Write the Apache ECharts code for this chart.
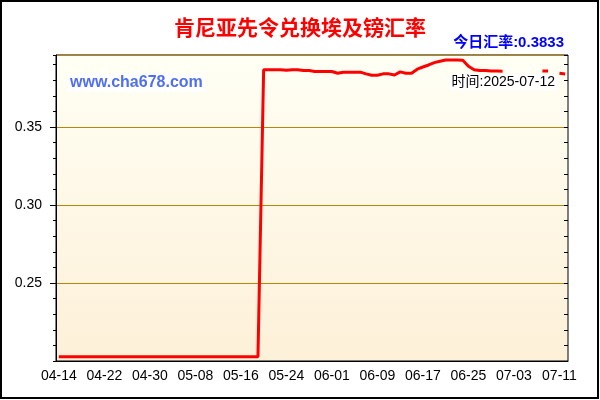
<!DOCTYPE html>
<html>
<head>
<meta charset="utf-8">
<script src="https://cdn.jsdelivr.net/npm/echarts@6/dist/echarts.min.js"></script>
<style>
  html, body { margin: 0; padding: 0; background: #fff; }
  #main { width: 600px; height: 400px; }
</style>
</head>
<body>
<div id="main"></div>
<script>
// 肯尼亚先令兑换埃及镑 daily rate, 2025-04-14 .. 2025-07-12
var startDate = '2025-04-14';
var dayCount = 90;
var days = [];
(function () {
    var d = new Date(startDate + 'T00:00:00Z');
    for (var i = 0; i < dayCount; i++) {
        var m = d.getUTCMonth() + 1, dd = d.getUTCDate();
        days.push((m < 10 ? '0' + m : m) + '-' + (dd < 10 ? '0' + dd : dd));
        d.setUTCDate(dd + 1);
    }
})();

var rates = [
    // 04-14 .. 05-19
    0.2027, 0.2027, 0.2027, 0.2027, 0.2027, 0.2027, 0.2027, 0.2027, 0.2027, 0.2027,
    0.2027, 0.2027, 0.2027, 0.2027, 0.2027, 0.2027, 0.2027, 0.2027, 0.2027, 0.2027,
    0.2027, 0.2027, 0.2027, 0.2027, 0.2027, 0.2027, 0.2027, 0.2027, 0.2027, 0.2027,
    0.2027, 0.2027, 0.2027, 0.2027, 0.2027, 0.2027,
    // 05-20 ..
    0.3868, 0.3868, 0.3868, 0.3868, 0.3864, 0.3868, 0.3868, 0.3862, 0.3862, 0.3856,
    0.3856, 0.3856, 0.3856, 0.3845, 0.3852, 0.3852, 0.3852, 0.3852, 0.3841, 0.3832,
    0.3832, 0.3841, 0.3841, 0.3834, 0.3854, 0.3845, 0.3845, 0.3871, 0.3885, 0.3898,
    0.3913, 0.3922, 0.3930, 0.3930, 0.3930, 0.3928, 0.3890, 0.3868, 0.3862, 0.3862,
    0.3860, 0.3860, 0.3858,
    // 07-02 .. 07-12
    null, null, null, null, null, null, 0.3860, 0.3860, null, 0.3845, 0.3840
];

var todayRate = 0.3833;
var todayDate = '2025-07-12';
var yLabels = [0.25, 0.30, 0.35];

var myChart = echarts.init(document.getElementById('main'));

var tickColor = '#000';
var font = '"Liberation Sans", Arial, sans-serif';

option = {
    backgroundColor: '#fff',
    animation: false,
    title: {
        text: '肯尼亚先令兑换埃及镑汇率',
        left: 'center',
        top: 12,
        textStyle: {
            color: '#ff0000',
            fontSize: 21,
            fontWeight: 'bold',
            fontFamily: '"Noto Sans CJK SC", sans-serif'
        }
    },
    grid: {
        left: 56,
        right: 32,
        top: 55,
        bottom: 39,
        show: true,
        borderColor: '#000',
        borderWidth: 1,
        backgroundColor: {
            type: 'linear', x: 0, y: 0, x2: 0, y2: 1,
            colorStops: [
                {offset: 0, color: '#fffff4'},
                {offset: 1, color: '#fdf0d8'}
            ]
        }
    },
    xAxis: [
        {
            type: 'category',
            data: days,
            boundaryGap: true,
            axisLine: {lineStyle: {color: '#000'}},
            axisTick: {alignWithLabel: true, interval: 7, length: 6, lineStyle: {color: tickColor}},
            axisLabel: {interval: 7, fontSize: 14, color: '#000', margin: 8, fontFamily: font},
            splitLine: {show: false}
        },
        {
            type: 'category',
            data: days,
            position: 'bottom',
            boundaryGap: true,
            axisLine: {show: false},
            axisTick: {alignWithLabel: true, interval: 0, length: 4, lineStyle: {color: tickColor}},
            axisLabel: {show: false},
            splitLine: {show: false}
        },
        {
            type: 'category',
            data: days,
            position: 'top',
            boundaryGap: true,
            axisLine: {show: false},
            axisTick: {alignWithLabel: true, interval: 0, inside: true, length: 3, lineStyle: {color: tickColor}},
            axisLabel: {show: false},
            splitLine: {show: false}
        }
    ],
    yAxis: [
        {
            type: 'value',
            min: 0.2,
            max: 0.3962,
            interval: 0.05,
            axisLine: {show: true, lineStyle: {color: '#000'}},
            axisTick: {show: true, length: 6, lineStyle: {color: tickColor}},
            axisLabel: {
                fontSize: 14,
                color: '#000',
                margin: 14,
                fontFamily: font,
                showMinLabel: false,
                showMaxLabel: false,
                formatter: function (v) {
                    for (var i = 0; i < yLabels.length; i++) {
                        if (Math.abs(v - yLabels[i]) < 1e-6) return yLabels[i].toFixed(2);
                    }
                    return '';
                }
            },
            splitLine: {show: true, lineStyle: {color: '#b8860b', width: 1}}
        },
        {
            type: 'value',
            min: 0.2,
            max: 0.3962,
            interval: 0.01,
            position: 'left',
            axisLine: {show: false},
            axisTick: {show: true, length: 3, lineStyle: {color: tickColor}},
            axisLabel: {show: false},
            splitLine: {show: false}
        },
        {
            type: 'value',
            min: 0.2,
            max: 0.3962,
            interval: 0.01,
            position: 'right',
            axisLine: {show: false},
            axisTick: {show: true, inside: true, length: 4, lineStyle: {color: tickColor}},
            axisLabel: {show: false},
            splitLine: {show: false}
        }
    ],
    graphic: [
        {
            type: 'rect',
            silent: true,
            shape: {x: 1, y: 1, width: 597, height: 397},
            style: {fill: 'none', stroke: '#000', lineWidth: 2}
        },
        {
            type: 'text',
            x: 564,
            y: 43,
            style: {
                text: '今日汇率:' + todayRate,
                align: 'right',
                verticalAlign: 'middle',
                fill: '#0000ff',
                font: 'bold 15px "Liberation Sans", "Noto Sans CJK SC", sans-serif'
            }
        },
        {
            type: 'text',
            x: 68,
            y: 83,
            z: 10,
            style: {
                text: 'www.cha678.com',
                verticalAlign: 'middle',
                fill: '#4f6ff0',
                backgroundColor: '#fff',
                padding: [1, 2],
                font: 'bold 16px "Liberation Sans", Arial, sans-serif'
            }
        },
        {
            type: 'text',
            x: 557,
            y: 82,
            z: 10,
            style: {
                text: '时间:' + todayDate,
                align: 'right',
                verticalAlign: 'middle',
                fill: '#000',
                backgroundColor: '#fff',
                padding: [1, 2],
                font: '14px "Liberation Sans", "Noto Sans CJK SC", sans-serif'
            }
        }
    ],
    series: [
        {
            name: '汇率',
            type: 'line',
            xAxisIndex: 0,
            yAxisIndex: 0,
            data: rates,
            symbol: 'none',
            connectNulls: false,
            lineStyle: {color: '#ff0000', width: 3},
            z: 5
        }
    ]
};
myChart.setOption(option);
</script>
</body>
</html>
